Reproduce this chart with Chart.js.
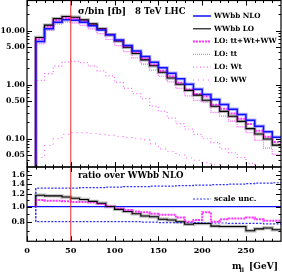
<!DOCTYPE html>
<html>
<head>
<meta charset="utf-8">
<script src="https://cdn.jsdelivr.net/npm/chart.js@4.4.1/dist/chart.umd.min.js"></script>
<style>
  html, body { margin: 0; padding: 0; background: #fff; }
  #wrap { position: relative; width: 282px; height: 274px; }
  #wrap canvas { position: absolute; left: 0; top: 0; }
</style>
</head>
<body>
<div id="wrap">
  <canvas id="topChart" width="282" height="274"></canvas>
  <canvas id="ratioChart" width="282" height="274"></canvas>
</div>
<script>
// bin edges in GeV (28 bins of 10 GeV)
var binEdges = [10, 20, 30, 40, 50, 60, 70, 80, 90, 100, 110, 120, 130, 140, 150,
                160, 170, 180, 190, 200, 210, 220, 230, 240, 250, 260, 270, 280, 290];

// sigma per bin [fb]
var nloWWbb = [6.3, 10.8, 14.2, 15.8, 15.6, 14.2, 12.3, 10.3, 8.4, 6.7, 5.3, 4.2, 3.3, 2.6,
               2.05, 1.62, 1.28, 1.02, 0.82, 0.66, 0.53, 0.43, 0.35, 0.28, 0.22, 0.17, 0.135, 0.107];
var loWWbb  = [7.43, 12.64, 16.61, 18.17, 17.63, 15.76, 13.28, 10.82, 8.40, 6.43, 4.93, 3.78, 2.87, 2.24,
               1.70, 1.33, 1.02, 0.785, 0.64, 0.515, 0.398, 0.32, 0.261, 0.209, 0.154, 0.122, 0.0986, 0.076];
var loSum   = [6.93, 11.77, 15.48, 17.06, 16.69, 15.19, 13.04, 10.71, 8.40, 6.50, 5.04, 3.91, 3.04, 2.34,
               1.81, 1.43, 1.09, 0.816, 0.672, 0.607, 0.424, 0.357, 0.294, 0.235, 0.187, 0.141, 0.109, 0.0867];
var loTT    = [5.69, 10.1, 13.18, 14.34, 13.86, 12.51, 10.72, 8.79, 6.84, 5.29, 4.09, 3.13, 2.40, 1.86,
               1.43, 1.13, 0.85, 0.62, 0.51, 0.47, 0.306, 0.262, 0.212, 0.166, 0.13, 0.093, 0.067, 0.051];
var loWt    = [1.2, 1.6, 2.2, 2.6, 2.7, 2.55, 2.2, 1.8, 1.45, 1.1, 0.85, 0.68, 0.55, 0.4,
               0.32, 0.24, 0.19, 0.15, 0.12, 0.1, 0.085, 0.065, 0.055, 0.045, 0.035, 0.028, 0.024, 0.02];
var loWW    = [0.045, 0.075, 0.1, 0.12, 0.13, 0.13, 0.125, 0.12, 0.115, 0.11, 0.105, 0.1, 0.095, 0.08,
               0.065, 0.058, 0.05, 0.044, 0.04, 0.036, 0.033, 0.03, 0.027, 0.024, 0.022, 0.02, 0.018, 0.016];

// ratios over WWbb NLO
var ratioLO  = [1.18, 1.17, 1.17, 1.15, 1.13, 1.11, 1.08, 1.05, 1.00, 0.96, 0.93, 0.90, 0.87, 0.86,
                0.83, 0.82, 0.80, 0.77, 0.78, 0.78, 0.75, 0.745, 0.745, 0.745, 0.70, 0.72, 0.73, 0.71];
var ratioSum = [1.10, 1.09, 1.09, 1.08, 1.07, 1.07, 1.06, 1.04, 1.00, 0.97, 0.95, 0.93, 0.92, 0.90,
                0.885, 0.885, 0.85, 0.80, 0.82, 0.92, 0.80, 0.83, 0.84, 0.84, 0.85, 0.83, 0.81, 0.81];
var scaleUp   = [1.31, 1.31, 1.31, 1.31, 1.31, 1.32, 1.32, 1.32, 1.33, 1.33, 1.34, 1.34, 1.34, 1.35,
                 1.35, 1.35, 1.36, 1.36, 1.37, 1.37, 1.38, 1.38, 1.39, 1.39, 1.40, 1.41, 1.41, 1.42];
var scaleDown = [0.80, 0.80, 0.80, 0.80, 0.80, 0.80, 0.80, 0.80, 0.80, 0.80, 0.80, 0.80, 0.795, 0.795,
                 0.79, 0.79, 0.79, 0.79, 0.79, 0.785, 0.785, 0.785, 0.78, 0.78, 0.78, 0.78, 0.775, 0.775];

// ticks
var xTicks = [0, 50, 100, 150, 200, 250];
var xMinorTicks = [10, 20, 30, 40, 60, 70, 80, 90, 110, 120, 130, 140, 160, 170, 180, 190, 210, 220, 230, 240, 260, 270, 280];
var topTicks = [0.05, 0.1, 0.5, 1, 5, 10];
var topMinorTicks = [0.04, 0.06, 0.07, 0.08, 0.09, 0.2, 0.3, 0.4, 0.6, 0.7, 0.8, 0.9, 2, 3, 4, 6, 7, 8, 9, 20, 30];
var ratioTicks = [0.8, 1.0, 1.2, 1.4, 1.6];
var ratioMinorTicks = [0.7, 0.9, 1.1, 1.3, 1.5, 1.7];
var cutMll = 50;

var FONT = '"DejaVu Serif"';
Chart.defaults.font.family = FONT;
Chart.defaults.font.weight = 'bold';
Chart.defaults.font.size = 7.8;
Chart.defaults.color = '#000';

function histo(values, start) 
{
    var pts = [{x: binEdges[0], y: start}];
    for (var i = 0; i < values.length; i++) 
    {
        pts.push({x: binEdges[i + 1], y: values[i]});
    }
    return pts;
}

function linha(label, data, color, width, dash, extra) 
{
    var ds = {
        label: label,
        data: data,
        borderColor: color,
        borderWidth: width,
        borderDash: dash || [],
        stepped: 'after',
        pointRadius: 0,
        fill: false,
        tension: 0
    };
    for (var k in extra) { ds[k] = extra[k]; }
    return ds;
}

// frame with inward ticks, on all four sides
var framePlugin = {
    id: 'frame',
    afterDatasetsDraw: function (chart, args, opts) 
    {
        var ctx = chart.ctx, a = chart.chartArea;
        var xs = chart.scales.x, ys = chart.scales.y;
        ctx.save();
        ctx.strokeStyle = '#000';
        ctx.lineWidth = 1;
        ctx.setLineDash([]);
        ctx.beginPath();
        function xTick(v, len) 
        {
            var px = Math.round(xs.getPixelForValue(v)) + 0.5;
            ctx.moveTo(px, a.top); ctx.lineTo(px, a.top + len);
            ctx.moveTo(px, a.bottom); ctx.lineTo(px, a.bottom - len);
        }
        function yTick(v, len) 
        {
            var py = Math.round(ys.getPixelForValue(v)) + 0.5;
            ctx.moveTo(a.left, py); ctx.lineTo(a.left + len, py);
            ctx.moveTo(a.right, py); ctx.lineTo(a.right - len, py);
        }
        opts.xMajor.forEach(function (v) { xTick(v, 5); });
        opts.xMinor.forEach(function (v) { xTick(v, 2.5); });
        opts.yMajor.forEach(function (v) { yTick(v, 5); });
        opts.yMinor.forEach(function (v) { yTick(v, 2.5); });
        ctx.stroke();
        ctx.lineWidth = 1.2;
        ctx.strokeRect(a.left, a.top, a.right - a.left, a.bottom - a.top);
        ctx.restore();
    }
};

// free text (title, axis title)
var notesPlugin = {
    id: 'notes',
    afterDraw: function (chart, args, opts) 
    {
        var ctx = chart.ctx;
        ctx.save();
        ctx.fillStyle = '#000';
        ctx.textBaseline = 'middle';
        ctx.textAlign = 'left';
        (opts.items || []).forEach(function (it) 
        {
            ctx.font = 'bold ' + it.size + 'px ' + FONT;
            ctx.fillText(it.text, it.x, it.y);
        });
        ctx.restore();
    }
};

// legend drawn inside the plot
var legendPlugin = {
    id: 'lineLegend',
    afterDraw: function (chart, args, opts) 
    {
        var ctx = chart.ctx;
        var items = chart.data.datasets.filter(function (d) { return d.inLegend; });
        ctx.save();
        ctx.textBaseline = 'middle';
        ctx.textAlign = 'left';
        ctx.font = 'bold ' + opts.size + 'px ' + FONT;
        items.forEach(function (d, i) 
        {
            var y = opts.y + i * opts.step;
            ctx.beginPath();
            ctx.strokeStyle = d.borderColor;
            ctx.lineWidth = d.borderWidth;
            ctx.setLineDash(d.borderDash || []);
            ctx.moveTo(opts.x, y);
            ctx.lineTo(opts.x + opts.len, y);
            ctx.stroke();
            ctx.fillStyle = '#000';
            ctx.fillText(d.label, opts.x + opts.len + 3, y);
        });
        ctx.restore();
    }
};

function eixoY(ticksList, decimals) 
{
    return {
        type: 'logarithmic',
        grid: { display: false, drawTicks: false },
        border: { display: false },
        ticks: {
            padding: 2,
            autoSkip: false,
            callback: function (v) { return Number(v).toFixed(decimals); }
        },
        afterBuildTicks: function (scale) 
        {
            scale.ticks = ticksList.map(function (v) { return {value: v}; });
        },
        afterFit: function (scale) 
        {
            scale.width = 27;
            scale.paddingTop = 0;
            scale.paddingBottom = 0;
        }
    };
}

var RED = '#e82828', BLUE = '#1010ff', MAG = '#ff33ff', MAG2 = '#ff66ff';

var topY = eixoY(topTicks, 2);
topY.min = 0.03;
topY.max = 36;

var topChart = new Chart(document.getElementById('topChart'), 
{
    type: 'line',
    data: {
        datasets: [
            linha('cut', [{x: cutMll, y: 0.001}, {x: cutMll, y: 1000}], RED, 1, [], {stepped: false}),
            linha('WWbb NLO', histo(nloWWbb, 0.001), BLUE, 1.5, [], {inLegend: true}),
            linha('WWbb LO', histo(loWWbb, 0.001), '#000', 1.1, [], {inLegend: true}),
            linha('LO: tt+Wt+WW', histo(loSum, 0.001), MAG, 2, [2, 1], {inLegend: true}),
            linha('LO: tt', histo(loTT, 0.001), MAG2, 1.2, [1, 1], {inLegend: true}),
            linha('LO: Wt', histo(loWt, 0.001), MAG2, 1.2, [1, 2.5], {inLegend: true}),
            linha('LO: WW', histo(loWW, 0.001), MAG2, 1.2, [1, 4], {inLegend: true}),
            linha('band LO', histo(loWWbb, 0.001), 'rgba(120,120,120,0.55)', 3.4, []),
            linha('band NLO', histo(nloWWbb, 0.001), 'rgba(110,110,255,0.5)', 3.4, [])
        ]
    },
    options: {
        responsive: false,
        animation: false,
        events: [],
        layout: { padding: { top: 0.5, right: 1, bottom: 107, left: 0 } },
        plugins: {
            legend: { display: false },
            tooltip: { enabled: false },
            frame: { xMajor: xTicks, xMinor: xMinorTicks, yMajor: topTicks, yMinor: topMinorTicks },
            notes: { items: [
                { text: 'σ/bin [fb]', x: 78, y: 12, size: 9 },
                { text: '8 TeV LHC', x: 135, y: 12, size: 8.6 }
            ] },
            lineLegend: { x: 193, y: 16, step: 12.8, len: 18, size: 7.2 }
        },
        scales: {
            x: { type: 'linear', min: 0, max: 290, display: false },
            y: topY
        }
    },
    plugins: [framePlugin, notesPlugin, legendPlugin]
});

var ratioY = eixoY(ratioTicks, 1);
ratioY.min = 0.625;
ratioY.max = 1.79;

var ratioChart = new Chart(document.getElementById('ratioChart'), 
{
    type: 'line',
    data: {
        datasets: [
            linha('cut', [{x: cutMll, y: 0.5}, {x: cutMll, y: 2}], RED, 1, [], {stepped: false}),
            linha('WWbb LO', histo(ratioLO, 1.0), '#000', 1.1, []),
            linha('LO: tt+Wt+WW', histo(ratioSum, 1.0), MAG, 2, [2, 1]),
            linha('scale unc.', histo(scaleUp, scaleDown[0]), '#3030ff', 1.2, [2, 1.5], {inLegend: true}),
            linha('scale down', histo(scaleDown, scaleUp[0]), '#3030ff', 1.2, [2, 1.5]),
            linha('unity', [{x: 0, y: 1}, {x: 290, y: 1}], BLUE, 1.2, [], {stepped: false}),
            linha('band LO', histo(ratioLO, 1.0), 'rgba(120,120,120,0.5)', 3.4, [])
        ]
    },
    options: {
        responsive: false,
        animation: false,
        events: [],
        layout: { padding: { top: 167, right: 1, bottom: 13.9, left: 0 } },
        plugins: {
            legend: { display: false },
            tooltip: { enabled: false },
            frame: { xMajor: xTicks, xMinor: xMinorTicks, yMajor: ratioTicks, yMinor: ratioMinorTicks },
            notes: { items: [
                { text: 'ratio over WWbb NLO', x: 78, y: 176, size: 8.6 },
                { text: 'm', x: 232, y: 267, size: 9 },
                { text: 'll', x: 239.5, y: 270, size: 6 },
                { text: '[GeV]', x: 249, y: 267, size: 9 }
            ] },
            lineLegend: { x: 193, y: 199, step: 12.8, len: 18, size: 7.6 }
        },
        scales: {
            x: {
                type: 'linear', min: 0, max: 290,
                grid: { display: false, drawTicks: false },
                border: { display: false },
                ticks: { padding: 4.5, autoSkip: false, maxRotation: 0, font: { size: 8.2 } },
                afterBuildTicks: function (scale) 
                {
                    scale.ticks = xTicks.map(function (v) { return {value: v}; });
                }
            },
            y: ratioY
        }
    },
    plugins: [framePlugin, notesPlugin, legendPlugin]
});
</script>
</body>
</html>
